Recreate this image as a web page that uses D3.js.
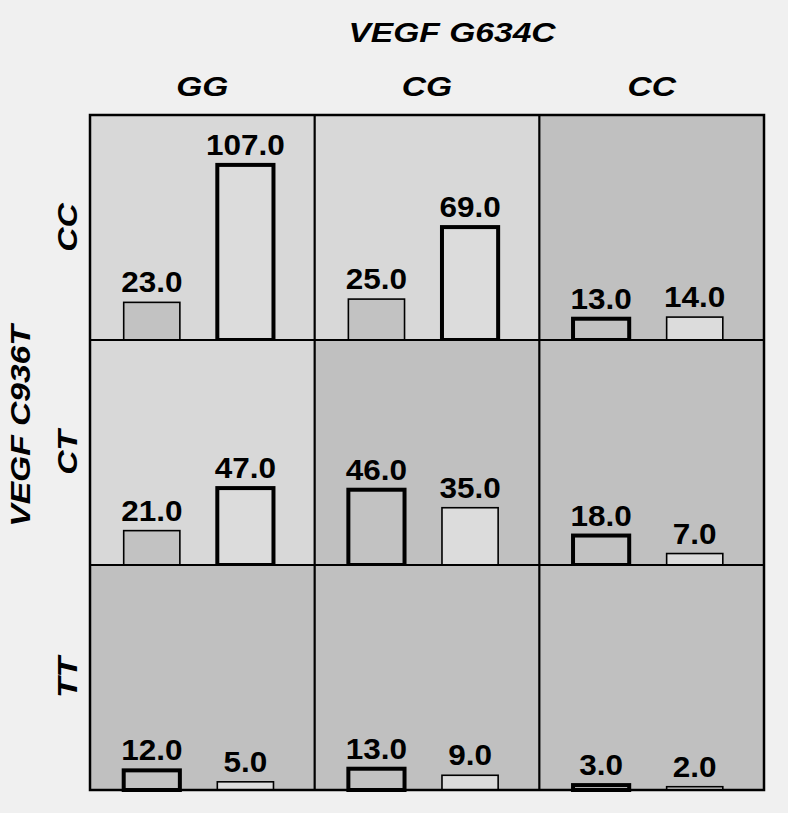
<!DOCTYPE html>
<html><head><meta charset="utf-8">
<script src="https://cdn.jsdelivr.net/npm/d3@7"></script>
<style>
html,body{margin:0;padding:0;background:#f0f0f0;}
svg{display:block;}
text{font-family:"Liberation Sans",Arial,sans-serif;font-weight:bold;fill:#000;}
</style></head>
<body>
<svg id="chart" width="788" height="813"></svg>
<script>
const colTitle = "VEGF G634C";
const rowTitle = "VEGF C936T";
const colCats = ["GG", "CG", "CC"];
const rowCats = ["CC", "CT", "TT"];
const barCats = ["a", "b"];
// values per row (rowCats) and column (colCats)
const seriesA = [[23, 25, 13], [21, 46, 18], [12, 13, 3]];
const seriesB = [[107, 69, 14], [47, 35, 7], [5, 9, 2]];
// 1 = heavy outline
const heavyA = [[0, 0, 1], [0, 1, 1], [1, 1, 1]];
const heavyB = [[1, 1, 0], [1, 0, 0], [0, 0, 0]];
// 1 = light cell shading
const cellLight = [[1, 1, 0], [1, 0, 0], [0, 0, 0]];

const svg = d3.select("#chart");
const gx0 = 90, gy0 = 115, gw = 674, gh = 675;

const xCol = d3.scaleBand().domain(colCats).range([gx0, gx0 + gw]);
const yRow = d3.scaleBand().domain(rowCats).range([gy0, gy0 + gh]);
const cw = xCol.bandwidth(), ch = yRow.bandwidth();
const xBar = d3.scaleBand().domain(barCats).range([0, cw]).paddingInner(0.4).paddingOuter(0.4).align(0.45);
const yMax = d3.max([...seriesA.flat(), ...seriesB.flat()]) * 1.285;
const yVal = d3.scaleLinear().domain([0, yMax]).range([ch, 0]);

const cells = [];
rowCats.forEach((r, i) => colCats.forEach((c, j) => cells.push({r, c, i, j})));

const g = svg.selectAll("g.cell").data(cells).join("g")
  .attr("class", "cell")
  .attr("transform", d => `translate(${xCol(d.c)},${yRow(d.r)})`);

g.append("rect").attr("width", cw).attr("height", ch)
  .attr("fill", d => cellLight[d.i][d.j] ? "#d8d8d8" : "#c0c0c0");

g.each(function(d) {
  const bars = [
    {k: "a", v: seriesA[d.i][d.j], heavy: heavyA[d.i][d.j], fill: "#c2c2c2"},
    {k: "b", v: seriesB[d.i][d.j], heavy: heavyB[d.i][d.j], fill: "#dcdcdc"}
  ];
  const sel = d3.select(this);
  sel.selectAll("rect.bar").data(bars).join("rect").attr("class", "bar")
    .attr("x", b => xBar(b.k)).attr("width", xBar.bandwidth())
    .attr("y", b => yVal(b.v)).attr("height", b => ch - yVal(b.v))
    .attr("fill", b => b.fill).attr("stroke", "#000")
    .attr("stroke-width", b => b.heavy ? 4 : 1.6);
  sel.selectAll("text.val").data(bars).join("text").attr("class", "val")
    .attr("transform", b => `translate(${xBar(b.k) + xBar.bandwidth() / 2},${yVal(b.v) - 10}) scale(1.05,1)`)
    .attr("text-anchor", "middle").attr("font-size", 30)
    .text(b => b.v.toFixed(1));
});

// grid lines
svg.append("g").selectAll("line.v").data(colCats.slice(1)).join("line")
  .attr("x1", c => xCol(c)).attr("x2", c => xCol(c)).attr("y1", gy0).attr("y2", gy0 + gh)
  .attr("stroke", "#000").attr("stroke-width", 2.2);
svg.append("g").selectAll("line.h").data(rowCats.slice(1)).join("line")
  .attr("y1", r => yRow(r)).attr("y2", r => yRow(r)).attr("x1", gx0).attr("x2", gx0 + gw)
  .attr("stroke", "#000").attr("stroke-width", 2.2);
svg.append("rect").attr("x", gx0).attr("y", gy0).attr("width", gw).attr("height", gh)
  .attr("fill", "none").attr("stroke", "#000").attr("stroke-width", 2.5);

// column labels
svg.append("text").attr("transform", "translate(452,42) scale(1.2,1)").attr("text-anchor", "middle")
  .attr("font-size", 28).attr("font-style", "italic").text(colTitle);
svg.selectAll("text.colcat").data(colCats).join("text").attr("class", "colcat")
  .attr("transform", c => `translate(${xCol(c) + cw / 2},96) scale(1.2,1)`).attr("text-anchor", "middle")
  .attr("font-size", 28).attr("font-style", "italic").text(c => c);

// row labels
svg.selectAll("text.rowcat").data(rowCats).join("text").attr("class", "rowcat")
  .attr("transform", r => `translate(77,${yRow(r) + ch / 2}) rotate(-90) scale(1.2,1)`)
  .attr("text-anchor", "middle").attr("font-size", 28).attr("font-style", "italic").text(r => r);
svg.append("text").attr("transform", `translate(30,426) rotate(-90) scale(1.2,1)`)
  .attr("text-anchor", "middle").attr("font-size", 28).attr("font-style", "italic").text(rowTitle);
</script>
</body></html>
